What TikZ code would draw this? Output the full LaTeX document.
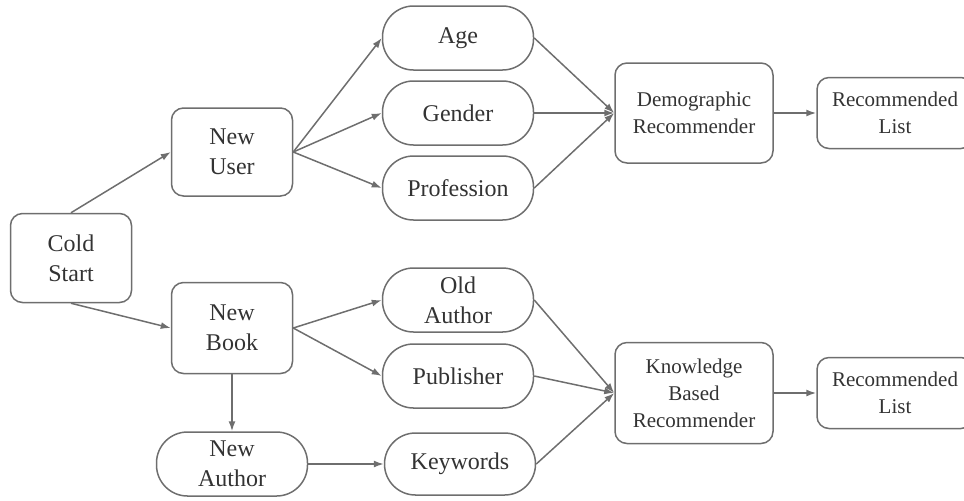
\documentclass[tikz,border=0pt]{standalone}
\usepackage{fontspec}
\setmainfont{Liberation Serif}
\usetikzlibrary{positioning}
\usetikzlibrary{arrows.meta}
\definecolor{linegray}{HTML}{6E6E6E}
\definecolor{textgray}{HTML}{333333}

\begin{document}
\begin{tikzpicture}[x=0.5pt, y=-0.5pt,
	roundbox/.style={draw=linegray, line width=0.75pt, rounded corners=6pt, align=center, inner sep=0pt, text=textgray, font=\fontsize{12}{15}\selectfont},
	pillbox/.style={roundbox, rounded corners=15.5pt, minimum width=75.5pt, minimum height=32pt},
	recbox/.style={roundbox, font=\fontsize{10.5}{13.5}\selectfont},
	link/.style={draw=linegray, line width=0.75pt, -{Latex[length=5pt, width=3.5pt]}}]
					\clip (0, 0) rectangle (964, 500);
					\node[roundbox, minimum width=60.5pt, minimum height=44.5pt] (cold) at (71, 258) {Cold\\Start};
					\node[roundbox, minimum width=60.5pt, minimum height=44pt] (newuser) at (232, 152) {New\\User};
					\node[roundbox, minimum width=60.5pt, minimum height=45.5pt] (newbook) at (232, 328) {New\\Book};
					\node[pillbox] (newauthor) at (232, 464) {New\\Author};
					\node[pillbox] (age) at (458, 38) {Age};
					\node[pillbox] (gender) at (458, 113) {Gender};
					\node[pillbox] (profession) at (458, 188) {Profession};
					\node[pillbox] (oldauthor) at (458, 300) {Old\\Author};
					\node[pillbox] (publisher) at (458, 376) {Publisher};
					\node[pillbox, minimum height=31pt] (keywords) at (460, 464) {Keywords};
					\node[recbox, minimum width=79pt, minimum height=50pt] (demo) at (694, 113) {Demographic\\Recommender};
					\node[recbox, minimum width=79pt, minimum height=50.5pt] (knowledge) at (694, 393) {Knowledge\\Based\\Recommender};
					\node[recbox, minimum width=78pt, minimum height=35.5pt] (listone) at (895, 113) {Recommended\\List};
					\node[recbox, minimum width=78pt, minimum height=35.5pt] (listtwo) at (895, 393) {Recommended\\List};
					\draw[link] (cold.north) -- (newuser.west);
					\draw[link] (cold.south) -- (newbook.west);
					\foreach \target in {age, gender, profession}
						\draw[link] (newuser.east) -- (\target.west);
					\foreach \target in {oldauthor, publisher}
						\draw[link] (newbook.east) -- (\target.west);
					\draw[link] (newbook.south) -- (newauthor.north);
					\draw[link] (newauthor.east) -- (keywords.west);
					\foreach \source in {age, gender, profession}
						\draw[link] (\source.east) -- (demo.west);
					\foreach \source in {oldauthor, publisher, keywords}
						\draw[link] (\source.east) -- (knowledge.west);
					\draw[link] (demo.east) -- (listone.west);
					\draw[link] (knowledge.east) -- (listtwo.west);
				\end{tikzpicture}
\end{document}
